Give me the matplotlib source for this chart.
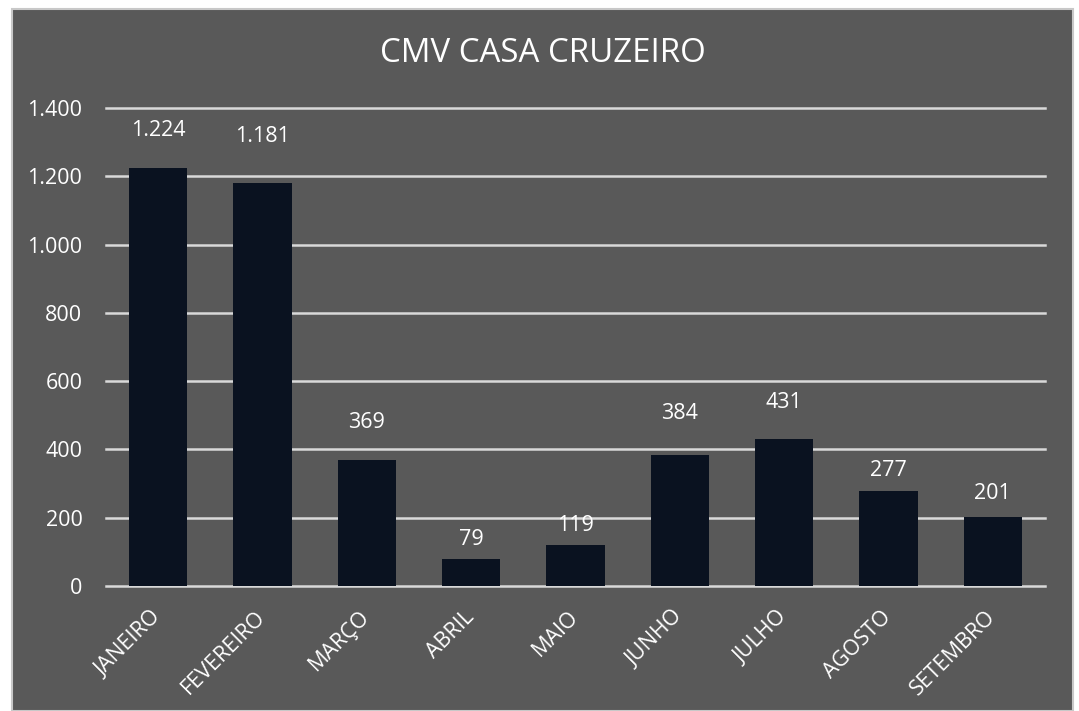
import matplotlib
matplotlib.use("Agg")
import matplotlib.pyplot as plt
from matplotlib.patches import Rectangle
from matplotlib.ticker import FuncFormatter

months = ["JANEIRO", "FEVEREIRO", "MARÇO", "ABRIL", "MAIO",
          "JUNHO", "JULHO", "AGOSTO", "SETEMBRO"]
values = [1224, 1181, 369, 79, 119, 384, 431, 277, 201]
y_ticks = [0, 200, 400, 600, 800, 1000, 1200, 1400]
title = "CMV CASA CRUZEIRO"

# label offsets above bar tops (points), matching the reference layout
label_offsets = [27, 33, 27, 14, 14, 30, 26, 15, 17]

plt.rcParams['font.family'] = ['Open Sans', 'DejaVu Sans']

W, H = 1079, 711
FS = 15.5
fig = plt.figure(figsize=(W / 100, H / 100), dpi=100, facecolor="white")

panel = Rectangle((12 / W, 0), (1073 - 12) / W, (711 - 9) / H,
                  transform=fig.transFigure, facecolor="#595959",
                  edgecolor="#c8c8c8", linewidth=1.5, zorder=-10)
fig.patches.append(panel)

ax = fig.add_axes([106 / W, 125 / H, (1045 - 106) / W, (586 - 108) / H])
ax.set_facecolor("none")
ax.set_zorder(5)

x = list(range(len(months)))
bars = ax.bar(x, values, width=0.556, color="#0a1220", zorder=3)

ax.set_xlim(-0.5, len(months) - 0.5)
ax.set_ylim(0, 1400)
ax.set_yticks(y_ticks)
fmt = lambda v, p: f"{int(v):,}".replace(",", ".")
ax.yaxis.set_major_formatter(FuncFormatter(fmt))
ax.grid(axis="y", color="#d9d9d9", linewidth=1.8, zorder=1)
for gl in ax.get_ygridlines():
    gl.set_clip_on(False)
ax.set_axisbelow(True)

for s in ax.spines.values():
    s.set_visible(False)
ax.tick_params(axis="both", length=0, colors="white", labelsize=FS)
ax.tick_params(axis="y", pad=17)

ax.set_xticks(x)
ax.set_xticklabels(months, rotation=45, ha="right", va="center",
                   rotation_mode="anchor", fontsize=FS, color="white")
ax.tick_params(axis="x", pad=20)

for xi, v, off in zip(x, values, label_offsets):
    ax.annotate(fmt(v, None), (xi, v), xytext=(0, off),
                textcoords="offset points", ha="center", va="center",
                color="white", fontsize=FS)

fig.text(543 / W, 1 - 54 / H, title, ha="center", va="center",
         color="white", fontsize=23.8, zorder=6)

fig.savefig("out.png", dpi=100, facecolor=fig.get_facecolor())
